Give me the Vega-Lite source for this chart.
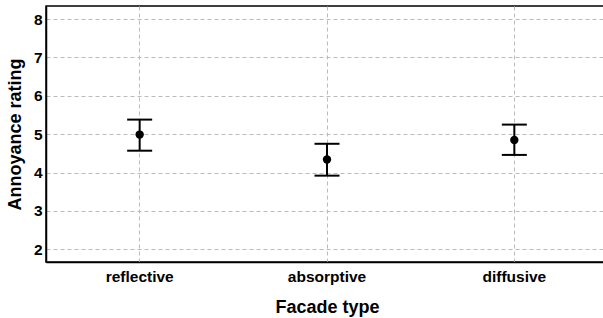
{
  "$schema": "https://vega.github.io/schema/vega-lite/v6.json",
  "autosize": "none",
  "padding": {"left": 46, "top": 6, "right": 0, "bottom": 56},
  "width": 562,
  "height": 256,
  "config": {
    "font": "Liberation Sans",
    "view": {"stroke": "black", "strokeWidth": 1.5},
    "axis": {
      "labelFont": "Liberation Sans", "labelFontWeight": "bold", "labelFontSize": 15.5, "labelColor": "black",
      "titleFont": "Liberation Sans", "titleFontWeight": "bold", "titleFontSize": 18, "titleColor": "black",
      "grid": true, "gridColor": "#bbbbbb", "gridDash": [4, 3], "gridWidth": 1,
      "domainColor": "black", "domainWidth": 1.5, "ticks": false
    }
  },
  "data": {
    "values": [
      {"facade": "reflective", "mean": 4.99, "lo": 4.57, "hi": 5.38},
      {"facade": "absorptive", "mean": 4.34, "lo": 3.92, "hi": 4.75},
      {"facade": "diffusive", "mean": 4.85, "lo": 4.46, "hi": 5.25}
    ]
  },
  "encoding": {
    "x": {
      "field": "facade", "type": "nominal", "sort": ["reflective", "absorptive", "diffusive"],
      "scale": {"paddingInner": 0, "paddingOuter": 0},
      "axis": {"title": "Facade type", "labelAngle": 0, "labelPadding": 7, "titlePadding": 14}
    }
  },
  "layer": [
    {
      "mark": {"type": "rule", "color": "black", "strokeWidth": 2},
      "encoding": {
        "y": {"field": "lo", "type": "quantitative", "scale": {"domain": [1.67, 8.34], "nice": false, "zero": false},
          "axis": {"title": "Annoyance rating", "values": [2, 3, 4, 5, 6, 7, 8], "labelPadding": 4, "titlePadding": 9}},
        "y2": {"field": "hi"}
      }
    },
    {
      "mark": {"type": "tick", "color": "black", "thickness": 2, "size": 25, "opacity": 1},
      "encoding": {"y": {"field": "lo", "type": "quantitative"}}
    },
    {
      "mark": {"type": "tick", "color": "black", "thickness": 2, "size": 25, "opacity": 1},
      "encoding": {"y": {"field": "hi", "type": "quantitative"}}
    },
    {
      "mark": {"type": "point", "filled": true, "color": "black", "size": 70, "opacity": 1},
      "encoding": {"y": {"field": "mean", "type": "quantitative"}}
    }
  ]
}
